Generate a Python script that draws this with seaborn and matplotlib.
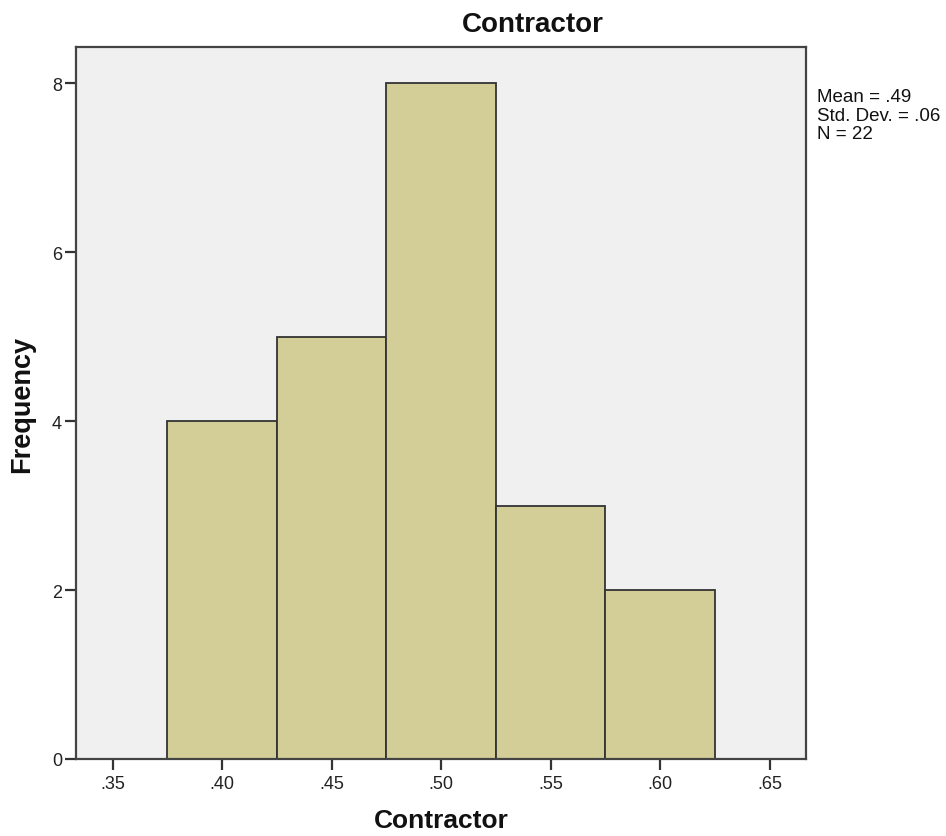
import matplotlib
matplotlib.use("Agg")
import matplotlib.pyplot as plt
import seaborn as sns
import numpy as np

bin_centers = [0.40, 0.45, 0.50, 0.55, 0.60]
counts = [4, 5, 8, 3, 2]
bin_edges = [0.375, 0.425, 0.475, 0.525, 0.575, 0.625]
x_ticks = [0.35, 0.40, 0.45, 0.50, 0.55, 0.60, 0.65]
x_tick_labels = [".35", ".40", ".45", ".50", ".55", ".60", ".65"]
y_ticks = [0, 2, 4, 6, 8]
stats_text = "Mean = .49\nStd. Dev. = .06\nN = 22"

sns.set_theme(style="white")
plt.rcParams['font.family'] = ['Liberation Sans', 'DejaVu Sans']

W, H = 946, 837
fig = plt.figure(figsize=(W / 100, H / 100), dpi=100)
ax_l, ax_r, ax_t, ax_b = 76, 806, 48, 760
ax = fig.add_axes([ax_l / W, 1 - ax_b / H, (ax_r - ax_l) / W, (ax_b - ax_t) / H])
ax.set_facecolor("#F0F0F0")

sns.histplot(x=bin_centers, weights=counts, bins=bin_edges, ax=ax,
             color="#D3CE98", edgecolor="#333333", linewidth=1.3, alpha=1.0)

ax.set_xlim(1/3, 2/3)
ax.set_ylim(0, 8.43)
ax.set_xticks(x_ticks)
ax.set_xticklabels(x_tick_labels)
ax.set_yticks(y_ticks)
ax.tick_params(axis="both", direction="out", length=8, width=1.6, color="#333333",
               labelsize=13, labelcolor="#222222", left=True, bottom=True)
ax.tick_params(axis="x", pad=3.5)
ax.tick_params(axis="y", pad=2)
for s in ax.spines.values():
    s.set_color("#444444")
    s.set_linewidth(1.6)

ax.set_xlabel("Contractor", fontsize=19, fontweight="bold", color="#111111", va="baseline")
ax.xaxis.set_label_coords(0.5, -(828 - ax_b) / (ax_b - ax_t))
ax.set_ylabel("Frequency", fontsize=19.5, fontweight="bold", color="#111111", va="center")
ax.yaxis.set_label_coords(-(ax_l - 22) / (ax_r - ax_l), 0.5)

fig.text(533 / W, 1 - 25 / H, "Contractor", fontsize=20, fontweight="bold",
         color="#111111", ha="center", va="center")

fig.text(817 / W, 1 - 89 / H, stats_text, fontsize=13.5, va="top", ha="left",
         linespacing=1.12, color="#111111")

fig.savefig("out.png", dpi=100)
